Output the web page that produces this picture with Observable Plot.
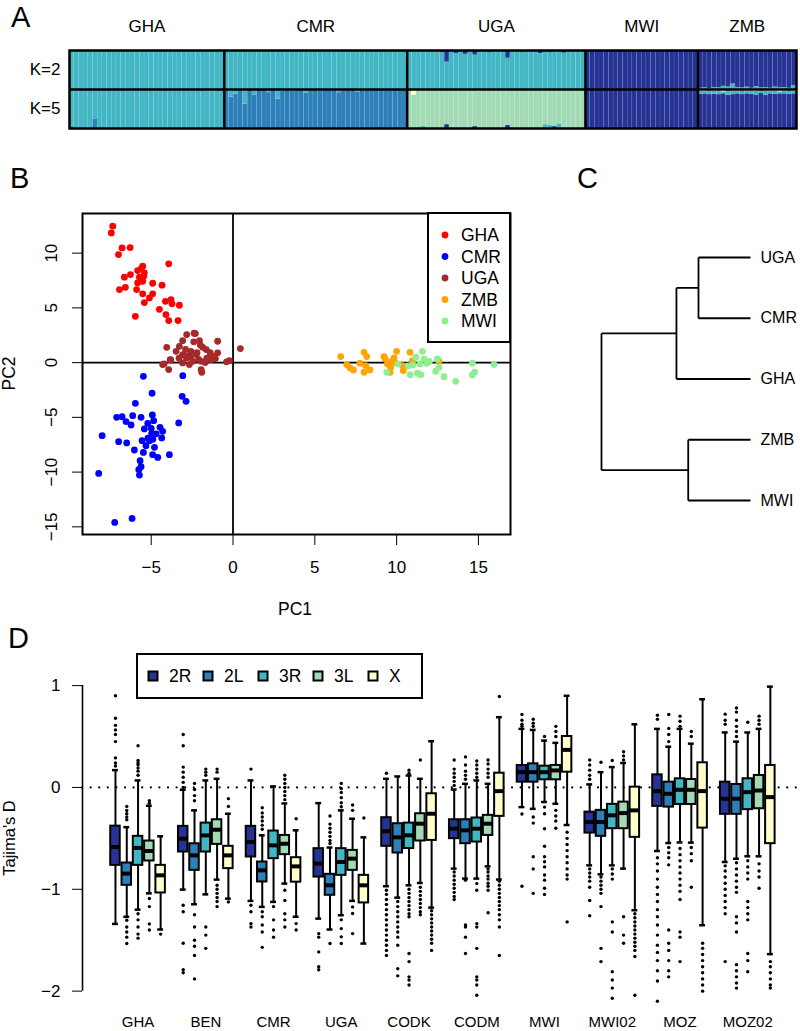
<!DOCTYPE html>
<html><head><meta charset="utf-8">
<script src="https://cdn.jsdelivr.net/npm/d3@7"></script>
<script src="https://cdn.jsdelivr.net/npm/@observablehq/plot@0.6"></script>
<style>
body{margin:0;background:#fff;}
#fig{position:relative;width:800px;height:1031px;overflow:hidden;background:#fff;font-family:"Liberation Sans",Arial,Helvetica,sans-serif;}
#fig > div{position:absolute;}
#panelD [aria-label^="x-axis"] text{font-size:15px;}
</style></head>
<body><div id="fig"></div>
<script>
// ---------------- DATA ----------------
// Panel A: admixture proportions
const popsA = ["GHA","CMR","UGA","MWI","ZMB"];
const nIndA = [33,39,38,24,21];
const clusterKeys = ["dark","blue","teal","green","yellow"];
const clusterColors = ["#253494","#2c7fb8","#41b6c4","#a1dab4","#ffffcc"];
// K=2 minor components
const k2UGA_dark = [0.02,0.03,0.02,0.04,0.02,0.05,0.03,0.06,0.30,0.04,
  0.08,0.03,0.10,0.02,0.12,0.04,0.02,0.06,0.03,0.02,
  0.04,0.20,0.03,0.02,0.05,0.02,0.03,0.02,0.08,0.02,
  0.06,0.03,0.02,0.07,0.02,0.01,0.02,0.01];
const k2ZMB_teal = [0.03,0.04,0.02,0.05,0.04,0.08,0.06,0.14,0.05,0.04,
  0.06,0.03,0.07,0.04,0.05,0.03,0.06,0.04,0.05,0.03,0.10];
// K=5 minor components
const k5GHA_blue = [0.06,0,0,0,0,0.25,0,0,0,0, 0,0,0,0,0,0,0,0,0,0, 0,0,0,0,0,0,0,0,0,0, 0,0,0];
const k5GHA_yellow = [0,0.03,0,0,0,0,0,0,0,0, 0.03,0,0,0,0,0.02,0,0,0.03,0, 0,0.02,0,0,0,0.02,0,0,0,0.03, 0,0,0];
const k5CMR_teal = [0,0.20,0.12,0,0.35,0,0.15,0,0,0.08, 0,0.25,0.05,0,0.05,0,0,0.10,0,0, 0.05,0,0,0,0.08,0,0,0,0.06,0, 0,0,0,0,0,0.03,0,0,0];
const k5CMR_yellow = [0,0,0,0,0.03,0,0,0,0,0, 0,0,0,0,0,0,0,0,0,0, 0,0,0,0,0,0.03,0,0,0,0, 0,0,0,0,0,0,0,0,0];
const k5UGA_dark = [0,0,0,0,0,0,0,0,0.10,0, 0,0,0,0,0.05,0,0,0,0,0, 0,0.08,0,0,0,0,0,0,0,0, 0,0.05,0,0,0,0,0,0];
const k5UGA_teal = [0,0,0,0.05,0,0,0,0,0,0, 0,0,0,0,0,0,0,0,0,0, 0,0,0,0,0,0,0,0,0,0.10, 0.08,0,0.12,0,0,0,0,0];
const k5UGA_yellow = [0,0.15,0,0,0,0,0,0,0,0, 0,0,0,0,0,0.04,0,0,0,0, 0,0,0,0,0,0,0,0,0,0, 0,0,0,0,0,0,0,0];
const k5ZMB_teal = [0.08,0.06,0.10,0.07,0.09,0.05,0.12,0.08,0.07,0.10, 0.06,0.08,0.09,0.07,0.11,0.06,0.08,0.05,0.07,0.09, 0.06];
const k5ZMB_yellow = [0.04,0.05,0.03,0.05,0.04,0.06,0.03,0.05,0.04,0.03, 0.05,0.04,0.05,0.03,0.04,0.05,0.04,0.06,0.04,0.03, 0.05];

// Panel B: PCA
const popsB = ["GHA","CMR","UGA","ZMB","MWI"];
const colorsB = ["#ff0000","#0000ff","#a52a2a","#ffa500","#90ee90"];
const ghaPts = [[-7.35,12.46],[-7.44,11.85],[-6.78,10.48],[-6.29,10.51],[-7.0,9.87],[-3.93,9.02],[-5.52,8.8],[-5.83,8.41],[-5.42,8.2],[-6.27,8.04],[-6.64,7.8],[-5.72,7.8],[-5.52,7.43],[-5.83,7.28],[-4.91,7.25],[-4.34,7.07],[-6.94,6.67],[-6.58,6.88],[-5.89,6.67],[-5.52,6.28],[-4.91,6.28],[-5.11,5.91],[-5.42,5.48],[-4.13,5.6],[-3.79,5.76],[-3.73,5.37],[-3.28,5.24],[-4.5,4.87],[-4.1,4.39],[-3.93,3.84],[-3.36,3.84],[-5.97,4.23],[-5.6,8.6],[-5.45,7.9]];
const cmrPts = [[-5.48,-1.25],[-3.07,-1.19],[-4.95,-2.8],[-3.11,-3.08],[-2.87,-3.54],[-5.97,-3.72],[-7.11,-5.0],[-6.78,-4.94],[-6.13,-4.85],[-5.62,-5.0],[-4.93,-4.78],[-6.54,-5.39],[-6.23,-5.7],[-5.21,-5.55],[-4.85,-5.3],[-3.32,-5.51],[-5.42,-6.06],[-4.46,-5.91],[-4.3,-6.28],[-8.0,-6.67],[-4.97,-6.46],[-4.36,-6.88],[-6.99,-7.22],[-6.5,-7.34],[-5.56,-7.13],[-5.11,-7.13],[-5.32,-7.59],[-4.8,-7.74],[-6.03,-7.98],[-5.48,-8.2],[-4.91,-8.41],[-4.6,-8.66],[-3.89,-8.41],[-5.68,-8.96],[-5.62,-9.51],[-5.76,-9.78],[-5.72,-10.27],[-8.21,-10.12],[-7.23,-14.6],[-6.17,-14.23],[-5.0,-6.0],[-4.7,-6.5],[-5.2,-6.9],[-4.9,-7.0]];
const ugaPts = [[-2.83,2.56],[-2.3,2.65],[-2.05,2.0],[-3.08,2.0],[-3.28,1.49],[-4.05,1.4],[-0.94,1.95],[0.45,1.28],[-1.85,1.4],[-2.57,1.03],[-3.48,1.03],[-0.94,0.89],[-1.64,1.19],[-2.25,0.73],[-3.08,0.73],[-3.84,0.27],[-2.85,0.43],[-2.46,0.12],[-1.95,0.12],[-1.34,0.27],[-1.08,0.37],[-0.22,0.18],[-0.4,0.07],[-4.3,-0.18],[-3.93,-0.64],[-3.08,-0.03],[-2.67,-0.18],[-1.95,-0.64],[-2.38,2.68],[-4.21,-0.12],[-1.91,-0.88],[-3.8,0.24],[-2.6,0.5],[-2.2,0.9],[-1.6,0.4],[-2.0,1.6],[-2.4,1.9],[-1.4,0.9],[-2.9,1.2],[-2.1,0.3],[-1.2,0.6],[-2.8,0.6],[-3.3,0.4],[-1.7,0.0]];
const zmbPts = [[6.58,0.55],[6.95,-0.18],[7.36,-0.67],[7.15,-0.48],[8.01,0.94],[8.17,0.55],[7.76,-0.06],[8.11,-0.27],[8.37,-0.67],[8.01,-0.88],[9.23,0.55],[9.44,-0.12],[9.7,0.12],[10.0,1.03],[9.84,0.43],[9.64,-0.43],[9.6,-0.88],[10.35,-0.27],[10.41,-0.73],[10.82,0.94],[10.96,0.18],[12.59,0.12],[9.3,0.33],[9.9,0.0]];
const mwiPts = [[9.4,-0.88],[10.09,-0.12],[10.82,-1.1],[11.17,0.49],[11.58,1.03],[11.67,0.34],[11.43,-0.12],[11.84,-0.06],[11.27,-0.97],[11.47,-1.1],[12.49,0.34],[12.59,-0.43],[12.39,-0.79],[12.9,-1.28],[13.61,-1.71],[14.63,-0.06],[14.77,-0.88],[14.63,-1.13],[15.95,-0.18],[10.7,-0.3],[12.0,0.1],[11.0,-0.2]];
const ticksB_x = [-5,0,5,10,15];
const ticksB_y = [-15,-10,-5,0,5,10];

// Panel C: tree
const leafNames = ["UGA","CMR","GHA","ZMB","MWI"];
const leafHeight = 1;
const nodeIds = ["n1","n2","n3","root"];
const nodeLeft = ["UGA","n1","ZMB","n2"];
const nodeRight = ["CMR","GHA","MWI","n3"];
const nodeHeight = [0.651,0.503,0.582,0];

// Panel D: Tajima's D boxplots
const popsD = ["GHA","BEN","CMR","UGA","CODK","CODM","MWI","MWI02","MOZ","MOZ02"];
const chroms = ["2R","2L","3R","3L","X"];
const whiskHi = [[0.17,-0.39,0.069,-0.18,-0.48],[-0.023,-0.225,0.069,0.085,-0.258],[0.069,-0.47,0.01,-0.157,-0.421],[-0.154,-0.59,-0.225,-0.307,-0.49],[0.085,0.108,0.117,0.085,0.454],[-0.02,0.036,0.069,0.036,0.69],[0.575,0.565,0.46,0.438,0.9],[0.03,0.15,0.2,0.24,0.62],[0.575,0.4,0.575,0.43,0.866],[0.54,0.45,0.54,0.575,0.99]];
const upperQ = [[-0.38,-0.742,-0.48,-0.526,-0.765],[-0.382,-0.553,-0.35,-0.317,-0.578],[-0.382,-0.732,-0.428,-0.471,-0.69],[-0.601,-0.853,-0.601,-0.618,-0.863],[-0.297,-0.356,-0.35,-0.258,-0.062],[-0.317,-0.317,-0.3,-0.274,0.14],[0.216,0.232,0.209,0.216,0.5],[-0.242,-0.225,-0.166,-0.144,0.003],[0.124,0.052,0.085,0.078,0.242],[0.052,0.029,0.085,0.118,0.216]];
const medianD = [[-0.585,-0.846,-0.594,-0.624,-0.863],[-0.503,-0.667,-0.471,-0.415,-0.667],[-0.536,-0.814,-0.569,-0.553,-0.775],[-0.748,-0.961,-0.732,-0.699,-0.961],[-0.43,-0.49,-0.47,-0.356,-0.258],[-0.405,-0.421,-0.405,-0.356,-0.036],[0.15,0.15,0.15,0.167,0.369],[-0.34,-0.34,-0.274,-0.252,-0.225],[-0.036,-0.062,-0.023,-0.023,-0.036],[-0.111,-0.111,-0.046,-0.03,-0.095]];
const lowerQ = [[-0.765,-0.961,-0.765,-0.722,-1.036],[-0.634,-0.814,-0.634,-0.559,-0.797],[-0.683,-0.928,-0.699,-0.66,-0.93],[-0.88,-1.059,-0.863,-0.814,-1.134],[-0.578,-0.644,-0.6,-0.526,-0.52],[-0.503,-0.552,-0.536,-0.471,-0.284],[0.052,0.052,0.075,0.075,0.15],[-0.448,-0.48,-0.405,-0.405,-0.49],[-0.186,-0.193,-0.167,-0.167,-0.399],[-0.264,-0.264,-0.218,-0.209,-0.552]];
const whiskLo = [[-1.34,-1.27,-1.2,-1.04,-1.395],[-1.003,-1.147,-1.05,-0.905,-1.092],[-1.114,-1.173,-1.124,-0.944,-1.27],[-1.288,-1.395,-1.255,-1.114,-1.533],[-0.97,-1.082,-0.961,-0.938,-1.18],[-0.797,-0.895,-0.895,-0.775,-0.904],[-0.193,-0.21,-0.143,-0.16,-0.369],[-0.765,-0.853,-0.765,-0.797,-1.206],[-0.624,-0.546,-0.54,-0.542,-1.353],[-0.732,-0.7,-0.676,-0.676,-1.637]];
const outliersD = [
 [[0.90,0.68,0.61,0.565,0.52,0.45,0.29,0.24,0.21],[-0.186,-0.226,-0.258,-0.29,-0.317,-1.304,-1.37,-1.42,-1.47,-1.533],[0.41,0.265,0.24,0.22,0.19,0.16,0.12,-1.24,-1.3,-1.37,-1.44,-1.48],[-0.13,-0.155,-1.09,-1.17,-1.34,-1.4],[-1.44]],
 [[0.52,0.41,0.2,0.15,0.1,0.05,0.0,-1.157,-1.22,-1.53,-1.79,-1.82],[0.04,-0.02,-0.08,-0.13,-1.25,-1.37,-1.5,-1.56,-1.65,-1.88],[0.18,0.15,0.12,-1.37,-1.45,-1.58],[0.18,0.15,-0.96,-1.0,-1.04,-1.08,-1.12,-1.17],[-0.11,-0.186,-1.124]],
 [[0.18,-1.157,-1.22,-1.337,-1.37],[-0.2,-0.25,-0.29,-0.33,-0.37,-0.41,-1.22,-1.27,-1.35,-1.42,-1.57],[-1.17,-1.3,-1.4,-1.47],[0.12,0.08,0.04,0.0,-0.04,-0.08,-0.12,-1.01,-1.11,-1.24,-1.3,-1.37],[-0.307,-1.337,-1.4]],
 [[-1.435,-1.47,-1.615,-1.76,-1.79],[-0.28,-0.36,-0.40,-0.44,-0.48,-0.52,-0.55,-1.533],[0.04,-0.01,-0.05,-0.1,-0.15,-0.19,-1.3,-1.386,-1.467,-1.533],[-0.173,-0.225,-1.173,-1.238,-1.435],[-0.3]],
 [[0.14,-1.01,-1.05,-1.1,-1.15,-1.2,-1.25,-1.3,-1.35,-1.4,-1.45,-1.5,-1.55,-1.6,-1.65],[-1.12,-1.17,-1.22,-1.27,-1.32,-1.37,-1.42,-1.47,-1.55,-1.78,-1.85],[0.14,0.17,-1.0,-1.04,-1.08,-1.12,-1.16,-1.2,-1.24,-1.27,-1.63,-1.71,-1.86,-1.89,-1.94],[0.27,-0.98,-1.02,-1.06,-1.1,-1.14,-1.18,-1.22,-1.25],[-1.21,-1.25,-1.29,-1.33,-1.37,-1.41,-1.45,-1.49,-1.53,-1.6]],
 [[0.27,0.18,0.14,0.1,0.06,0.02,-0.83,-0.87,-0.91,-0.95,-0.99,-1.03,-1.07,-1.1],[0.3,0.22,0.16,0.12,0.08,-0.91,-1.35,-1.37,-1.47,-1.63],[0.26,0.22,0.18,0.14,0.1,-0.944,-1.01,-1.337,-1.37,-1.58,-1.86,-1.89,-1.94,-2.04],[0.27,0.23,0.18,0.14,0.1,-0.8,-0.83,-0.87,-0.9,-0.94,-0.97,-1.01,-1.23],[0.893,-0.92,-0.96,-1.0,-1.04,-1.08,-1.12,-1.16,-1.2,-1.25,-1.3,-1.37,-1.65]],
 [[0.716,0.66,0.62,0.6,-0.26,-0.97],[0.6,0.63,0.67,-0.29,-0.35,-0.68,-0.8,-1.04],[0.5,-0.193,-0.258,-0.405,-0.578,-0.68,-0.73,-0.78,-0.86,-0.91,-0.99,-1.05],[0.6,0.55,0.5,-0.225,-0.28,-0.33,-0.4],[-0.44,-0.5,-0.56,-0.62,-0.68,-0.74,-0.8,-0.86,-0.9,-1.32]],
 [[0.27,0.22,0.17,0.12,0.08,-0.8,-0.84,-0.88,-0.92,-0.98,-1.11,-1.26],[0.248,-0.88,-0.92,-0.96,-1.0,-1.04,-1.17,-1.58,-1.71],[0.265,-0.8,-0.85,-0.9,-1.32,-1.42,-1.81,-1.89,-1.97,-2.07],[0.35,0.31,0.27,-1.27,-1.45,-1.53],[-1.24,-1.28,-1.32,-1.36,-1.4,-1.44,-1.48,-1.52,-1.56,-1.6,-1.66,-2.04]],
 [[0.71,0.67,-0.69,-0.75,-0.82,-0.9,-0.98,-1.05,-1.12,-1.2,-1.27,-1.35,-1.45,-1.55,-1.62,-1.7,-1.8,-1.9,-2.1],[0.716,0.58,0.52,0.45,-0.59,-0.64,-0.69,-0.76,-1.4,-1.53,-1.6,-1.7,-1.8,-1.86],[0.7,0.65,0.6,-0.6,-0.66,-0.72,-0.78,-0.84,-0.9,-0.96,-1.02,-1.1,-1.42,-1.47,-1.71],[0.55,0.5,-0.59,-0.65,-0.72,-0.98],[-1.53,-1.58,-1.64,-1.7,-1.76,-1.82,-1.88,-1.94,-2.0]],
 [[0.72,0.66,0.62,-0.77,-0.82,-0.88,-0.94,-1.0,-1.06,-1.12,-1.18,-1.24,-1.71],[0.78,0.74,0.66,0.6,0.55,0.5,-0.74,-0.8,-0.86,-0.92,-0.98,-1.03,-1.27,-1.33,-1.42,-1.74,-1.8,-1.86,-1.92,-1.97],[0.64,-0.72,-0.78,-0.84,-0.9,-1.12,-1.18,-1.24,-1.3,-1.63,-1.7,-1.81],[0.7,0.66,0.62,-0.75,-0.82,-0.88,-0.99],[-1.71,-1.76,-1.82,-1.88,-1.94,-1.97]]
];
const ticksD_y = [-2,-1,0,1];

// ---------------- HELPERS ----------------
const FONT = '"Liberation Sans", Arial, Helvetica, sans-serif';
const fmt = d => String(d).replace("-", "\u2212");
const fig = document.getElementById("fig");
function place(node, left, top, id) {
  const d = document.createElement("div");
  d.style.left = left + "px"; d.style.top = top + "px";
  if (id) d.id = id;
  d.appendChild(node); fig.appendChild(d);
}
const baseStyle = size => ({fontFamily: FONT, fontSize: size, color: "black", background: "transparent", overflow: "visible"});

// ---------------- PANEL A ----------------
const offsetsA = []; let accA = 0;
nIndA.forEach(n => { offsetsA.push(accA); accA += n; });
const totalA = accA;
const boundsA = offsetsA.slice(1);
const centersA = offsetsA.map((o, i) => o + nIndA[i] / 2);
const rowsA = [];
function stackInd(idx, base, parts) {
  let y = base;
  for (const [c, f] of parts) {
    if (f > 0) { rowsA.push({x1: idx, x2: idx + 1, y1: y, y2: y + f, c}); y += f; }
  }
}
popsA.forEach((p, g) => {
  for (let i = 0; i < nIndA[g]; i++) {
    const idx = offsetsA[g] + i;
    let d2 = 0;
    if (p === "UGA") d2 = k2UGA_dark[i];
    if (p === "MWI") d2 = 1;
    if (p === "ZMB") d2 = 1 - k2ZMB_teal[i];
    stackInd(idx, 1, [["teal", 1 - d2], ["dark", d2]]);
    let parts;
    if (p === "GHA") { const b = k5GHA_blue[i], y = k5GHA_yellow[i]; parts = [["blue", b], ["teal", 1 - b - y], ["yellow", y]]; }
    else if (p === "CMR") { const t = k5CMR_teal[i], y = k5CMR_yellow[i]; parts = [["blue", 1 - t - y], ["teal", t], ["yellow", y]]; }
    else if (p === "UGA") { const d = k5UGA_dark[i], t = k5UGA_teal[i], y = k5UGA_yellow[i]; parts = [["dark", d], ["teal", t], ["green", 1 - d - t - y], ["yellow", y]]; }
    else if (p === "MWI") { parts = [["dark", 1]]; }
    else { const t = k5ZMB_teal[i], y = k5ZMB_yellow[i]; parts = [["dark", 1 - t - y], ["teal", t], ["yellow", y]]; }
    stackInd(idx, 0, parts);
  }
});
const plotA = Plot.plot({
  width: 800, height: 135, marginLeft: 69, marginRight: 4, marginTop: 50, marginBottom: 7,
  style: baseStyle("17px"),
  x: {domain: [0, totalA], axis: "top", ticks: centersA, tickFormat: d => popsA[centersA.indexOf(d)], tickSize: 0, tickPadding: 19, label: null},
  y: {domain: [0, 2], ticks: [0.5, 1.5], tickFormat: d => d > 1 ? "K=2" : "K=5", tickSize: 0, tickPadding: 9, label: null},
  color: {domain: clusterKeys, range: clusterColors},
  marks: [
    Plot.rect(rowsA, {x1: "x1", x2: "x2", y1: "y1", y2: "y2", fill: "c", stroke: "white", strokeOpacity: 0.12, strokeWidth: 0.5}),
    Plot.ruleX(boundsA, {stroke: "black", strokeWidth: 2.5}),
    Plot.ruleY([1], {stroke: "black", strokeWidth: 2.5}),
    Plot.frame({stroke: "black", strokeWidth: 2.5})
  ]
});
place(plotA, 0, 0);

// ---------------- PANEL B ----------------
const ptsListB = [ghaPts, cmrPts, ugaPts, zmbPts, mwiPts];
const ptsB = [];
popsB.forEach((p, i) => ptsListB[i].forEach(([x, y]) => ptsB.push({pop: p, x, y})));
const plotB = Plot.plot({
  width: 560, height: 470, marginLeft: 82, marginRight: 50, marginTop: 53, marginBottom: 96,
  style: baseStyle("17px"),
  x: {domain: [-9.2, 16.96], ticks: ticksB_x, tickSize: 11, tickPadding: 15, tickFormat: fmt, label: null},
  y: {domain: [-15.7, 13.62], ticks: ticksB_y, tickSize: 10, tickPadding: 16, tickRotate: -90, tickFormat: fmt, label: null},
  color: {domain: popsB, range: colorsB},
  marks: [
    Plot.ruleX([0], {stroke: "black", strokeWidth: 1.8}),
    Plot.ruleY([0], {stroke: "black", strokeWidth: 1.8}),
    Plot.dot(ptsB, {x: "x", y: "y", fill: "pop", r: 3.4}),
    Plot.frame({stroke: "black", strokeWidth: 2})
  ]
});
place(plotB, 0, 160);

// ---------------- PANEL C ----------------
const posC = {};
leafNames.forEach((n, i) => posC[n] = {x: leafHeight, y: i});
const segC = [];
nodeIds.forEach((id, k) => {
  const a = posC[nodeLeft[k]], b = posC[nodeRight[k]], h = nodeHeight[k];
  posC[id] = {x: h, y: (a.y + b.y) / 2};
  segC.push({x1: h, y1: a.y, x2: h, y2: b.y});
  segC.push({x1: h, y1: a.y, x2: a.x, y2: a.y});
  segC.push({x1: h, y1: b.y, x2: b.x, y2: b.y});
});
const leavesC = leafNames.map((n, i) => ({name: n, x: leafHeight, y: i}));
const plotC = Plot.plot({
  width: 240, height: 360, marginLeft: 41, marginRight: 50, marginTop: 97, marginBottom: 20,
  style: baseStyle("16px"),
  x: {domain: [0, 1], axis: null},
  y: {domain: [0, 4], reverse: true, axis: null},
  marks: [
    Plot.link(segC, {x1: "x1", y1: "y1", x2: "x2", y2: "y2", stroke: "black", strokeWidth: 1.8}),
    Plot.text(leavesC, {x: "x", y: "y", text: "name", dx: 10, textAnchor: "start", fontSize: 16})
  ]
});
place(plotC, 560, 160);

// ---------------- PANEL D ----------------
const boxD = [], outD = [];
popsD.forEach((p, g) => chroms.forEach((c, j) => {
  const pos = g * 6 + j;
  boxD.push({pos, pop: p, chrom: c, hi: whiskHi[g][j], q3: upperQ[g][j], med: medianD[g][j], q1: lowerQ[g][j], lo: whiskLo[g][j]});
  outliersD[g][j].forEach(v => outD.push({pos, v}));
}));
const centersD = popsD.map((p, g) => g * 6 + 2);
const xDomD = [-2.92, 60.67];
const hw = 0.42, cw = 0.26;
const plotD = Plot.plot({
  width: 800, height: 391, marginLeft: 82, marginRight: 0, marginTop: 39, marginBottom: 20,
  style: baseStyle("17px"),
  x: {domain: xDomD, ticks: centersD, tickFormat: d => popsD[(d - 2) / 6], tickSize: 0, tickPadding: 5, label: null},
  y: {domain: [-2.2, 1.06], ticks: ticksD_y, tickSize: 10, tickPadding: 12, tickFormat: fmt, label: null},
  color: {domain: chroms, range: clusterColors},
  marks: [
    Plot.ruleX([xDomD[0]], {y1: ticksD_y[0], y2: ticksD_y[ticksD_y.length - 1], stroke: "black", strokeWidth: 1.6}),
    Plot.ruleY([0], {stroke: "black", strokeWidth: 2.2, strokeDasharray: "0,8.6", strokeLinecap: "round"}),
    Plot.ruleX(boxD, {x: "pos", y1: "lo", y2: "hi", stroke: "black", strokeWidth: 2}),
    Plot.ruleY(boxD, {y: "hi", x1: d => d.pos - cw, x2: d => d.pos + cw, stroke: "black", strokeWidth: 2.5}),
    Plot.ruleY(boxD, {y: "lo", x1: d => d.pos - cw, x2: d => d.pos + cw, stroke: "black", strokeWidth: 2.5}),
    Plot.dot(outD, {x: "pos", y: "v", r: 1.7, fill: "black", stroke: null}),
    Plot.rect(boxD, {x1: d => d.pos - hw, x2: d => d.pos + hw, y1: "q1", y2: "q3", fill: "chrom", stroke: "black", strokeWidth: 2}),
    Plot.ruleY(boxD, {y: "med", x1: d => d.pos - hw, x2: d => d.pos + hw, stroke: "black", strokeWidth: 4})
  ]
});
place(plotD, 0, 640, "panelD");

// ---------------- OVERLAY: panel letters, titles, legends ----------------
const ov = d3.create("svg").attr("width", 800).attr("height", 1031)
  .style("font-family", FONT).style("pointer-events", "none");
[["A", 11, 27], ["B", 10, 188], ["C", 577, 188], ["D", 8, 648]].forEach(([t, x, y]) =>
  ov.append("text").attr("x", x).attr("y", y).attr("font-size", 29).text(t));
ov.append("text").attr("x", 295).attr("y", 615).attr("font-size", 17.5).attr("text-anchor", "middle").text("PC1");
ov.append("text").attr("transform", "translate(15,373.5) rotate(-90)").attr("font-size", 17.5).attr("text-anchor", "middle").text("PC2");
ov.append("text").attr("transform", "translate(15,838) rotate(-90)").attr("font-size", 16.5).attr("text-anchor", "middle").text("Tajima's D");
const lgB = ov.append("g");
lgB.append("rect").attr("x", 428).attr("y", 213).attr("width", 82).attr("height", 129).attr("fill", "white").attr("stroke", "black").attr("stroke-width", 2);
popsB.forEach((p, i) => {
  const cy = 235 + i * 21.5;
  lgB.append("circle").attr("cx", 445).attr("cy", cy).attr("r", 3.4).attr("fill", colorsB[i]);
  lgB.append("text").attr("x", 461).attr("y", cy + 6.3).attr("font-size", 17.5).text(p);
});
const lgD = ov.append("g");
lgD.append("rect").attr("x", 137).attr("y", 654).attr("width", 285).attr("height", 44).attr("fill", "white").attr("stroke", "black").attr("stroke-width", 2);
chroms.forEach((c, i) => {
  const cx = 153 + i * 55;
  lgD.append("rect").attr("x", cx - 4.5).attr("y", 676 - 4.5).attr("width", 9).attr("height", 9).attr("fill", clusterColors[i]).attr("stroke", "black").attr("stroke-width", 2);
  lgD.append("text").attr("x", cx + 16).attr("y", 676 + 6.3).attr("font-size", 17.5).text(c);
});
place(ov.node(), 0, 0);
</script>
</body></html>
